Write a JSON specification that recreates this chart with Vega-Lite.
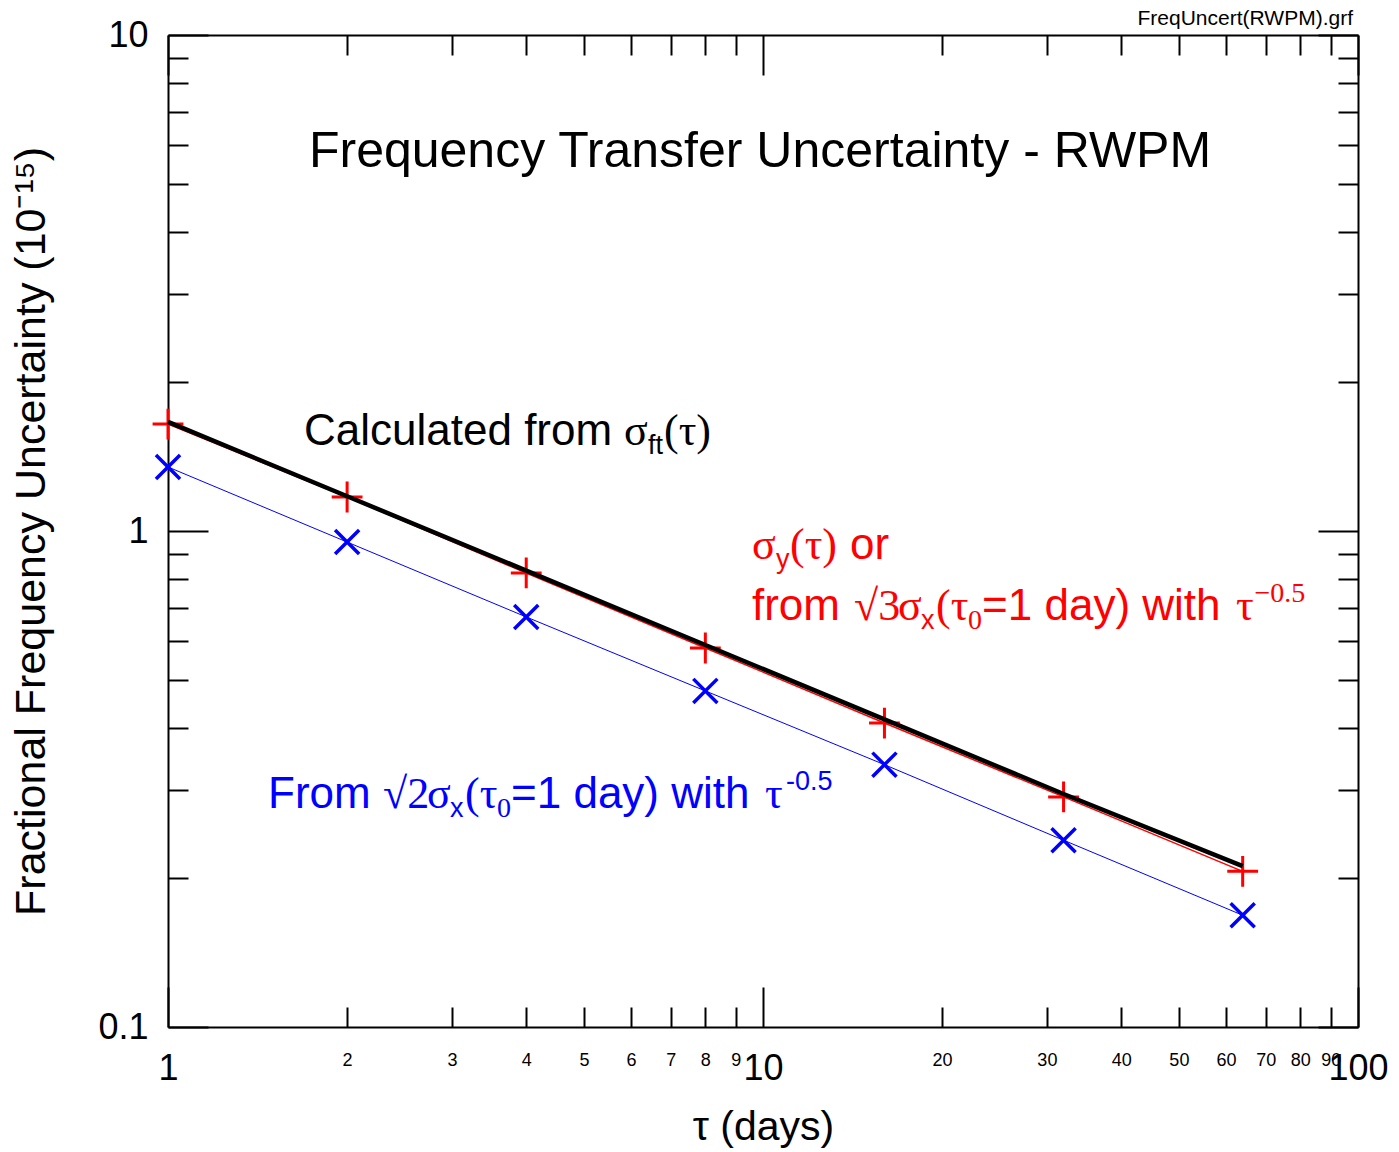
{
  "$schema": "https://vega.github.io/schema/vega-lite/v6.json",
  "width": 1190,
  "height": 992,
  "autosize": {"type": "none"},
  "padding": {"left": 168, "top": 35, "right": 41, "bottom": 125},
  "background": "white",
  "config": {
    "view": {"stroke": null},
    "font": "Liberation Sans",
    "axis": {"domainColor": "black", "domainWidth": 2, "tickColor": "black", "tickWidth": 2, "labelColor": "black", "labelFont": "Liberation Sans", "titleColor": "black", "titleFont": "Liberation Sans", "titleFontWeight": "normal", "grid": false, "labelFlush": false, "labelOverlap": false, "labelBound": false}
  },
  "datasets": {
    "pts": [
      {"tau": 1, "value": 1.643, "series": "sigma_y"},
      {"tau": 2, "value": 1.171, "series": "sigma_y"},
      {"tau": 4, "value": 0.823, "series": "sigma_y"},
      {"tau": 8, "value": 0.581, "series": "sigma_y"},
      {"tau": 16, "value": 0.410, "series": "sigma_y"},
      {"tau": 32, "value": 0.291, "series": "sigma_y"},
      {"tau": 64, "value": 0.206, "series": "sigma_y"},
      {"tau": 1, "value": 1.346, "series": "sqrt2"},
      {"tau": 2, "value": 0.950, "series": "sqrt2"},
      {"tau": 4, "value": 0.671, "series": "sqrt2"},
      {"tau": 8, "value": 0.476, "series": "sqrt2"},
      {"tau": 16, "value": 0.338, "series": "sqrt2"},
      {"tau": 32, "value": 0.238, "series": "sqrt2"},
      {"tau": 64, "value": 0.168, "series": "sqrt2"},
      {"tau": 1, "value": 1.66, "series": "calc"},
      {"tau": 2, "value": 1.175, "series": "calc"},
      {"tau": 4, "value": 0.832, "series": "calc"},
      {"tau": 8, "value": 0.589, "series": "calc"},
      {"tau": 16, "value": 0.417, "series": "calc"},
      {"tau": 32, "value": 0.295, "series": "calc"},
      {"tau": 64, "value": 0.211, "series": "calc"}
    ],
    "notes": [
      {"tau": 98.08, "value": 10.476, "text": "FreqUncert(RWPM).grf", "role": "file", "series": "calc"},
      {"tau": 9.885, "value": 5.419, "text": "Frequency Transfer Uncertainty - RWPM", "role": "title", "series": "calc"},
      {"tau": 1.6927, "value": 1.4909, "text": "Calculated from", "role": "sans", "series": "calc"},
      {"tau": 5.8403, "value": 1.4909, "text": "σ", "role": "serif", "series": "calc"},
      {"tau": 6.4092, "value": 1.4298, "text": "ft", "role": "sub_sans", "series": "calc"},
      {"tau": 6.8166, "value": 1.4909, "text": "(τ)", "role": "serif", "series": "calc"},
      {"tau": 9.5831, "value": 0.878, "text": "σ", "role": "serif", "series": "sigma_y"},
      {"tau": 10.516, "value": 0.8423, "text": "y", "role": "sub_sans", "series": "sigma_y"},
      {"tau": 11.101, "value": 0.878, "text": "(τ)", "role": "serif", "series": "sigma_y"},
      {"tau": 14.0, "value": 0.878, "text": "or", "role": "sans", "series": "sigma_y"},
      {"tau": 9.5831, "value": 0.6615, "text": "from", "role": "sans", "series": "sigma_y"},
      {"tau": 14.222, "value": 0.6615, "text": "√3", "role": "serif", "series": "sigma_y"},
      {"tau": 16.862, "value": 0.6615, "text": "σ", "role": "serif", "series": "sigma_y"},
      {"tau": 18.438, "value": 0.6343, "text": "x", "role": "sub_sans", "series": "sigma_y"},
      {"tau": 19.538, "value": 0.6615, "text": "(τ", "role": "serif", "series": "sigma_y"},
      {"tau": 22.115, "value": 0.6343, "text": "0", "role": "sub_serif", "series": "sigma_y"},
      {"tau": 23.346, "value": 0.6615, "text": "=1 day) with", "role": "sans", "series": "sigma_y"},
      {"tau": 62.37, "value": 0.6615, "text": "τ", "role": "serif", "series": "sigma_y"},
      {"tau": 67.0, "value": 0.7193, "text": "−0.5", "role": "sup_serif", "series": "sigma_y"},
      {"tau": 1.4728, "value": 0.27637, "text": "From", "role": "sans", "series": "sqrt2"},
      {"tau": 2.2981, "value": 0.27637, "text": "√2", "role": "serif", "series": "sqrt2"},
      {"tau": 2.7246, "value": 0.27637, "text": "σ", "role": "serif", "series": "sqrt2"},
      {"tau": 2.9785, "value": 0.2651, "text": "x", "role": "sub_sans", "series": "sqrt2"},
      {"tau": 3.1565, "value": 0.27637, "text": "(τ", "role": "serif", "series": "sqrt2"},
      {"tau": 3.5727, "value": 0.2651, "text": "0", "role": "sub_serif", "series": "sqrt2"},
      {"tau": 3.7717, "value": 0.27637, "text": "=1 day) with", "role": "sans", "series": "sqrt2"},
      {"tau": 10.078, "value": 0.27637, "text": "τ", "role": "serif", "series": "sqrt2"},
      {"tau": 10.931, "value": 0.30042, "text": "-0.5", "role": "sup_sans", "series": "sqrt2"}
    ]
  },
  "layer": [
    {
      "data": {"name": "pts"},
      "transform": [{"filter": "datum.series == 'sqrt2'"}],
      "mark": {"type": "line", "strokeWidth": 1},
      "encoding": {
        "x": {"field": "tau", "type": "quantitative", "scale": {"type": "log", "domain": [1, 100], "nice": false},
          "axis": {"orient": "bottom", "values": [1,2,3,4,5,6,7,8,9,10,20,30,40,50,60,70,80,90,100],
            "labelExpr": "format(datum.value, 'd')",
            "labelFontSize": {"condition": {"test": "datum.value == 1 || datum.value == 10 || datum.value == 100", "value": 36}, "value": 18},
            "tickSize": {"condition": {"test": "datum.value == 1 || datum.value == 10 || datum.value == 100", "value": -40}, "value": -20},
            "labelPadding": {"condition": {"test": "datum.value == 1 || datum.value == 10 || datum.value == 100", "value": 64}, "value": 44},
            "title": "τ (days)", "titleFontSize": 41, "titlePadding": 21}},
        "y": {"field": "value", "type": "quantitative", "scale": {"type": "log", "domain": [0.1, 10], "nice": false},
          "axis": {"orient": "left", "values": [0.1,0.2,0.3,0.4,0.5,0.6,0.7,0.8,0.9,1,2,3,4,5,6,7,8,9,10],
            "labelExpr": "datum.value == 0.1 ? '0.1' : datum.value == 1 ? '1' : datum.value == 10 ? '10' : ''",
            "labelFontSize": 36,
            "tickSize": {"condition": {"test": "datum.value == 0.1 || datum.value == 1 || datum.value == 10", "value": -40}, "value": -20},
            "labelPadding": {"condition": {"test": "datum.value == 0.1 || datum.value == 1 || datum.value == 10", "value": 60}, "value": 40},
            "title": "Fractional Frequency Uncertainty (10⁻¹⁵)", "titleFontSize": 43, "titlePadding": 44}},
        "color": {"field": "series", "type": "nominal", "scale": {"domain": ["calc", "sigma_y", "sqrt2"], "range": ["#000000", "#ff0000", "#0000ff"]}, "legend": null}
      }
    },
    {
      "data": {"name": "pts"},
      "transform": [{"filter": "datum.series == 'sqrt2'"}],
      "mark": {"type": "point", "shape": "M-1,-1L1,1M-1,1L1,-1", "filled": false, "strokeWidth": 3.5, "opacity": 1, "size": 580},
      "encoding": {
        "x": {"field": "tau", "type": "quantitative", "scale": {"type": "log", "domain": [1, 100], "nice": false},
          "axis": {"orient": "top", "values": [1,2,3,4,5,6,7,8,9,10,20,30,40,50,60,70,80,90,100], "labels": false, "title": null,
            "tickSize": {"condition": {"test": "datum.value == 1 || datum.value == 10 || datum.value == 100", "value": -40}, "value": -20}}},
        "y": {"field": "value", "type": "quantitative", "scale": {"type": "log", "domain": [0.1, 10], "nice": false},
          "axis": {"orient": "right", "values": [0.1,0.2,0.3,0.4,0.5,0.6,0.7,0.8,0.9,1,2,3,4,5,6,7,8,9,10], "labels": false, "title": null,
            "tickSize": {"condition": {"test": "datum.value == 0.1 || datum.value == 1 || datum.value == 10", "value": -40}, "value": -20}}},
        "color": {"field": "series", "type": "nominal", "legend": null}
      }
    },
    {
      "data": {"name": "pts"},
      "transform": [{"filter": "datum.series == 'sigma_y'"}],
      "mark": {"type": "line", "strokeWidth": 1.5},
      "encoding": {
        "x": {"field": "tau", "type": "quantitative", "axis": null},
        "y": {"field": "value", "type": "quantitative", "axis": null},
        "color": {"field": "series", "type": "nominal", "legend": null}
      }
    },
    {
      "data": {"name": "pts"},
      "transform": [{"filter": "datum.series == 'sigma_y'"}],
      "mark": {"type": "point", "shape": "M-1,0L1,0M0,-1L0,1", "filled": false, "strokeWidth": 3, "opacity": 1, "size": 950},
      "encoding": {
        "x": {"field": "tau", "type": "quantitative", "axis": null},
        "y": {"field": "value", "type": "quantitative", "axis": null},
        "color": {"field": "series", "type": "nominal", "legend": null}
      }
    },
    {
      "data": {"name": "pts"},
      "transform": [{"filter": "datum.series == 'calc'"}],
      "mark": {"type": "line", "strokeWidth": 4.5},
      "encoding": {
        "x": {"field": "tau", "type": "quantitative", "axis": null},
        "y": {"field": "value", "type": "quantitative", "axis": null},
        "color": {"field": "series", "type": "nominal", "legend": null}
      }
    },
    {
      "data": {"name": "notes"},
      "transform": [{"filter": "datum.role == 'file'"}],
      "mark": {"type": "text", "font": "Liberation Sans", "fontSize": 21, "align": "right", "baseline": "alphabetic", "clip": false},
      "encoding": {
        "x": {"field": "tau", "type": "quantitative", "axis": null},
        "y": {"field": "value", "type": "quantitative", "axis": null},
        "text": {"field": "text"},
        "color": {"field": "series", "type": "nominal", "legend": null}
      }
    },
    {
      "data": {"name": "notes"},
      "transform": [{"filter": "datum.role == 'title'"}],
      "mark": {"type": "text", "font": "Liberation Sans", "fontSize": 50, "align": "center", "baseline": "alphabetic"},
      "encoding": {
        "x": {"field": "tau", "type": "quantitative", "axis": null},
        "y": {"field": "value", "type": "quantitative", "axis": null},
        "text": {"field": "text"},
        "color": {"field": "series", "type": "nominal", "legend": null}
      }
    },
    {
      "data": {"name": "notes"},
      "transform": [{"filter": "datum.role == 'sans'"}],
      "mark": {"type": "text", "font": "Liberation Sans", "fontSize": 44, "align": "left", "baseline": "alphabetic"},
      "encoding": {
        "x": {"field": "tau", "type": "quantitative", "axis": null},
        "y": {"field": "value", "type": "quantitative", "axis": null},
        "text": {"field": "text"},
        "color": {"field": "series", "type": "nominal", "legend": null}
      }
    },
    {
      "data": {"name": "notes"},
      "transform": [{"filter": "datum.role == 'serif'"}],
      "mark": {"type": "text", "font": "Liberation Serif", "fontSize": 44, "align": "left", "baseline": "alphabetic"},
      "encoding": {
        "x": {"field": "tau", "type": "quantitative", "axis": null},
        "y": {"field": "value", "type": "quantitative", "axis": null},
        "text": {"field": "text"},
        "color": {"field": "series", "type": "nominal", "legend": null}
      }
    },
    {
      "data": {"name": "notes"},
      "transform": [{"filter": "datum.role == 'sub_sans' || datum.role == 'sup_sans'"}],
      "mark": {"type": "text", "font": "Liberation Sans", "fontSize": 27, "align": "left", "baseline": "alphabetic"},
      "encoding": {
        "x": {"field": "tau", "type": "quantitative", "axis": null},
        "y": {"field": "value", "type": "quantitative", "axis": null},
        "text": {"field": "text"},
        "color": {"field": "series", "type": "nominal", "legend": null}
      }
    },
    {
      "data": {"name": "notes"},
      "transform": [{"filter": "datum.role == 'sub_serif' || datum.role == 'sup_serif'"}],
      "mark": {"type": "text", "font": "Liberation Serif", "fontSize": 28, "align": "left", "baseline": "alphabetic"},
      "encoding": {
        "x": {"field": "tau", "type": "quantitative", "axis": null},
        "y": {"field": "value", "type": "quantitative", "axis": null},
        "text": {"field": "text"},
        "color": {"field": "series", "type": "nominal", "legend": null}
      }
    }
  ],
  "resolve": {"axis": {"x": "independent", "y": "independent"}}
}
